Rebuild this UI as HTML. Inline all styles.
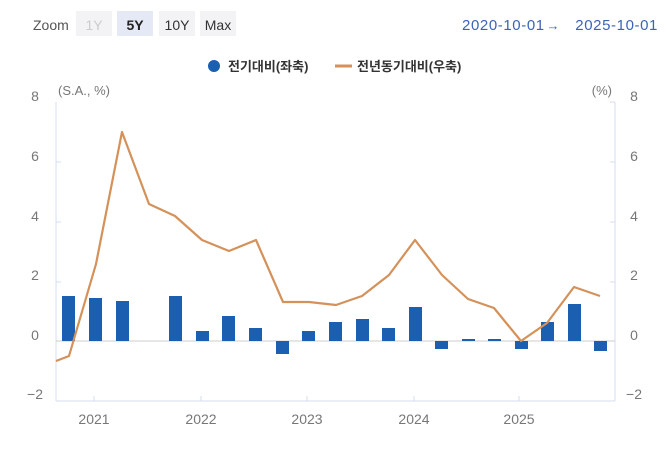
<!DOCTYPE html><html><head><meta charset="utf-8"><style>
body{margin:0;background:#fff;width:670px;height:447px;overflow:hidden;font-family:"Liberation Sans","Noto Sans CJK KR",sans-serif}
</style></head><body>
<svg width="670" height="447" xmlns="http://www.w3.org/2000/svg" font-family="Liberation Sans, Noto Sans CJK KR, sans-serif">
<text x="33" y="30" font-size="14" fill="#555">Zoom</text>
<rect x="76" y="11" width="36" height="25" fill="#f3f3f5"/><text x="94" y="30" font-size="14" fill="#ccc" text-anchor="middle">1Y</text>
<rect x="117" y="11" width="36" height="25" fill="#e4e9f5"/><text x="135" y="30" font-size="14" fill="#222" font-weight="bold" text-anchor="middle">5Y</text>
<rect x="159" y="11" width="36" height="25" fill="#f3f3f5"/><text x="177" y="30" font-size="14" fill="#333" text-anchor="middle">10Y</text>
<rect x="200" y="11" width="36" height="25" fill="#f3f3f5"/><text x="218" y="30" font-size="14" fill="#333" text-anchor="middle">Max</text>
<text x="462" y="30" font-size="15" fill="#3d63b5" letter-spacing="0.6">2020-10-01</text>
<text x="553" y="30" font-size="13" fill="#3d63b5" text-anchor="middle">→</text>
<text x="658" y="30" font-size="15" fill="#3d63b5" letter-spacing="0.6" text-anchor="end">2025-10-01</text>
<circle cx="214" cy="66" r="6" fill="#1a5fb0"/>
<text x="228" y="71" font-size="13" font-weight="bold" fill="#333">전기대비(좌축)</text>
<line x1="335" y1="66" x2="352" y2="66" stroke="#d4915a" stroke-width="3"/>
<text x="357" y="71" font-size="13" font-weight="bold" fill="#333">전년동기대비(우축)</text>
<g font-size="14" fill="#777">
<text x="58" y="95" font-size="13">(S.A., %)</text><text x="612" y="95" font-size="13" text-anchor="end">(%)</text>
<g text-anchor="middle">
<text x="35" y="101">8</text><text x="35" y="161">6</text><text x="35" y="221">4</text><text x="35" y="280">2</text><text x="35" y="340">0</text><text x="35" y="399">−2</text>
<text x="634" y="101">8</text><text x="634" y="161">6</text><text x="634" y="221">4</text><text x="634" y="280">2</text><text x="634" y="340">0</text><text x="634" y="399">−2</text>
<text x="94" y="424">2021</text><text x="201" y="424">2022</text><text x="307" y="424">2023</text><text x="414" y="424">2024</text><text x="519" y="424">2025</text>
</g></g>
<g stroke="#d6dcef" stroke-width="1">
<line x1="56" y1="102" x2="56" y2="401"/><line x1="615" y1="102" x2="615" y2="401"/><line x1="56" y1="401" x2="615" y2="401"/>
<line x1="56" y1="162" x2="61" y2="162"/><line x1="56" y1="222" x2="61" y2="222"/><line x1="56" y1="282" x2="61" y2="282"/>
<line x1="610" y1="162" x2="615" y2="162"/><line x1="610" y1="222" x2="615" y2="222"/><line x1="610" y1="282" x2="615" y2="282"/><line x1="610" y1="102" x2="615" y2="102"/>
<line x1="94" y1="396" x2="94" y2="401"/><line x1="201" y1="396" x2="201" y2="401"/><line x1="307" y1="396" x2="307" y2="401"/><line x1="414" y1="396" x2="414" y2="401"/><line x1="519" y1="396" x2="519" y2="401"/>
</g>
<line x1="56" y1="341" x2="615" y2="341" stroke="#ccc"/>
<g fill="#1a5fb0">
<rect x="62" y="296" width="13" height="45"/>
<rect x="89" y="298" width="13" height="43"/>
<rect x="116" y="301" width="13" height="40"/>
<rect x="169" y="296" width="13" height="45"/>
<rect x="196" y="331" width="13" height="10"/>
<rect x="222" y="316" width="13" height="25"/>
<rect x="249" y="328" width="13" height="13"/>
<rect x="276" y="341" width="13" height="13"/>
<rect x="302" y="331" width="13" height="10"/>
<rect x="329" y="322" width="13" height="19"/>
<rect x="356" y="319" width="13" height="22"/>
<rect x="382" y="328" width="13" height="13"/>
<rect x="409" y="307" width="13" height="34"/>
<rect x="435" y="341" width="13" height="8"/>
<rect x="462" y="339" width="13" height="2"/>
<rect x="488" y="339" width="13" height="2"/>
<rect x="515" y="341" width="13" height="8"/>
<rect x="541" y="322" width="13" height="19"/>
<rect x="568" y="304" width="13" height="37"/>
<rect x="594" y="341" width="13" height="10"/>
</g>
<polyline fill="none" stroke="#d4915a" stroke-width="2.2" stroke-linejoin="round" points="56,361 69,356 96,264 122,132 149,204 175,216 202,240 229,251 256,240 283,302 309,302 336,305 362,296 389,275 415,240 442,275 468,299 494,308 521,341 547,323 574,287 600,296"/>
</svg></body></html>
